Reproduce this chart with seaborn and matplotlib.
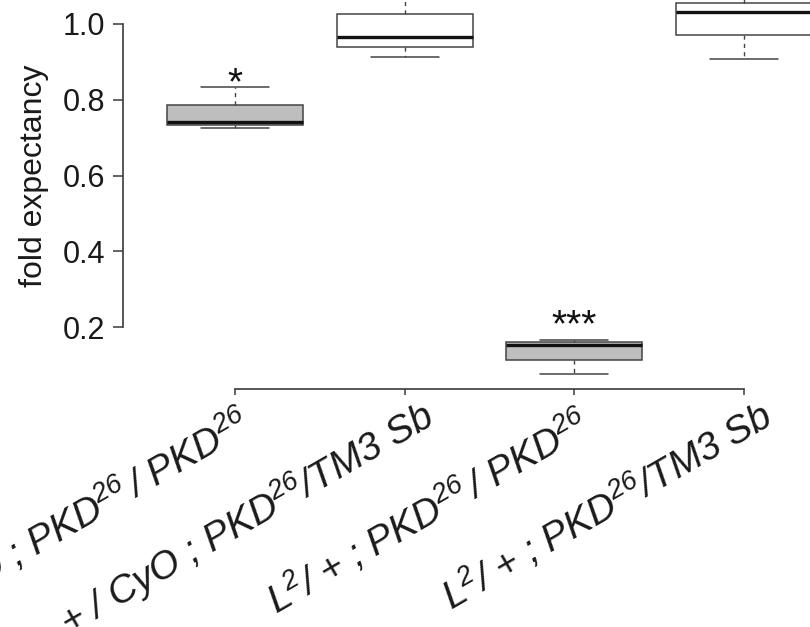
import numpy as np
import pandas as pd
import matplotlib
matplotlib.use('Agg')
import matplotlib.pyplot as plt
import matplotlib.transforms as mtrans
import seaborn as sns

# genotypes (left to right)
genotypes = [
    r'+ / CyO ; PKD$^{26}\,$/ PKD$^{26}$',
    r'+ / CyO ; PKD$^{26}$/TM3 Sb',
    r'L$^{2}$/ + ; PKD$^{26}\,$/ PKD$^{26}$',
    r'L$^{2}$/ + ; PKD$^{26}$/TM3 Sb',
]
# five-number summaries
lower_whisker = [0.726, 0.912, 0.077, 0.907]
q1 = [0.734, 0.939, 0.114, 0.970]
median = [0.741, 0.965, 0.153, 1.031]
q3 = [0.786, 1.026, 0.160, 1.056]
upper_whisker = [0.833, 1.10, 0.167, 1.11]
stars = ['*', '', '***', '']
star_y = [0.815, None, 0.176, None]
fills = ['#bebebe', 'white', '#bebebe', 'white']

rows = []
for i, g in enumerate(genotypes):
    for v in [lower_whisker[i], q1[i], median[i], q3[i], upper_whisker[i]]:
        rows.append({'genotype': g, 'fold': v})
df = pd.DataFrame(rows)

sns.set_style('ticks')
plt.rcParams['font.family'] = ['Liberation Sans', 'DejaVu Sans']
plt.rcParams['mathtext.fontset'] = 'custom'
plt.rcParams['mathtext.rm'] = 'Liberation Sans:italic'
plt.rcParams['mathtext.it'] = 'Liberation Sans:italic'

fig = plt.figure(figsize=(8.1, 6.27), dpi=100)
ax = fig.add_axes([0.1519, 0.3796, 0.8481, 0.6204])

edge = '#444444'
sns.boxplot(data=df, x='genotype', y='fold', hue='genotype', order=genotypes,
            palette=dict(zip(genotypes, fills)), legend=False, width=0.8,
            whis=(0, 100), linewidth=1.1, ax=ax,
            boxprops={'edgecolor': edge},
            whiskerprops={'color': edge, 'linestyle': (0, (3, 3)), 'linewidth': 1.0},
            capprops={'color': edge, 'linewidth': 1.1},
            medianprops={'color': '#111111', 'linewidth': 2.4})

for i, s in enumerate(stars):
    if s:
        ax.text(i, star_y[i], s, ha='center', va='baseline', fontsize=28,
                color='#111111')

ax.set_xlim(-0.66, 3.389)
ax.set_ylim(0.037, 1.0633)
ax.set_yticks([0.2, 0.4, 0.6, 0.8, 1.0])
ax.set_yticklabels(['0.2', '0.4', '0.6', '0.8', '1.0'])
sns.despine(ax=ax)
for sp in ['left', 'bottom']:
    ax.spines[sp].set_color('#3a3a3a')
    ax.spines[sp].set_linewidth(1.2)
ax.spines['left'].set_bounds(0.2, 1.0)
ax.spines['bottom'].set_bounds(0, 3)

ax.tick_params(axis='y', length=7.2, width=1.1, pad=5.5, labelsize=22,
               colors='#3a3a3a', labelcolor='#1a1a1a')
ax.tick_params(axis='x', length=4.3, width=1.1, pad=23, labelsize=28,
               colors='#3a3a3a', labelcolor='#1a1a1a')
ax.set_xticks(range(4))
ax.set_xticklabels(genotypes, rotation=30, ha='right', va='center',
                   rotation_mode='anchor', fontstyle='italic')

# nudge labels along their slant so their ends sit as in the original
shift_px = [14, 29, 14, 29]
ang = np.deg2rad(30)
for lab, d in zip(ax.get_xticklabels(), shift_px):
    off = mtrans.ScaledTranslation(d * np.cos(ang) / 100, d * np.sin(ang) / 100,
                                   fig.dpi_scale_trans)
    lab.set_transform(lab.get_transform() + off)

ax.set_xlabel('')
ax.set_ylabel('fold expectancy', fontsize=23, color='#1a1a1a')
ax.yaxis.set_label_coords(-0.1078, 0.5476)

fig.savefig('out.png', dpi=100)
